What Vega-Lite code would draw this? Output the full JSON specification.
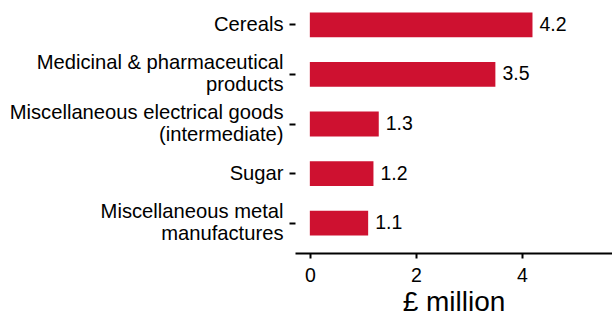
{
  "$schema": "https://vega.github.io/schema/vega-lite/v6.json",
  "width": 317,
  "height": 248,
  "autosize": {"type": "none"},
  "padding": {"left": 295, "top": 0, "right": 0, "bottom": 70},
  "config": {"view": {"stroke": null}, "font": "Liberation Sans"},
  "data": {
    "values": [
      {"category": "Cereals", "value": 4.2},
      {"category": "Medicinal & pharmaceutical|products", "value": 3.5},
      {"category": "Miscellaneous electrical goods|(intermediate)", "value": 1.3},
      {"category": "Sugar", "value": 1.2},
      {"category": "Miscellaneous metal|manufactures", "value": 1.1}
    ]
  },
  "encoding": {
    "y": {
      "field": "category",
      "type": "nominal",
      "sort": null,
      "scale": {"paddingInner": 0.5, "paddingOuter": 0.255},
      "axis": {
        "title": null,
        "domain": false,
        "ticks": true,
        "tickColor": "black",
        "tickWidth": 2,
        "tickSize": 6,
        "labelPadding": 6,
        "labelFontSize": 20.2,
        "labelColor": "black",
        "labelLimit": 400,
        "labelLineHeight": 22,
        "labelOffset": {"condition": {"test": "indexof(datum.value, '|') >= 0", "value": -11}, "value": 0},
        "labelExpr": "split(datum.value, '|')"
      }
    },
    "x": {
      "field": "value",
      "type": "quantitative",
      "scale": {"domain": [-0.28, 5.7], "nice": false, "zero": false},
      "axis": {
        "values": [0, 2, 4],
        "grid": false,
        "domain": true,
        "domainColor": "black",
        "domainWidth": 2,
        "ticks": true,
        "tickColor": "black",
        "tickWidth": 2,
        "tickSize": 5,
        "labelFontSize": 19.5,
        "labelColor": "black",
        "labelPadding": 8,
        "offset": 5,
        "title": "£ million",
        "titleFontSize": 28,
        "titleFontWeight": "normal",
        "titleColor": "black",
        "titlePadding": 4
      }
    }
  },
  "layer": [
    {
      "mark": {"type": "bar", "color": "#CE1130"},
      "encoding": {"x2": {"datum": 0}}
    },
    {
      "mark": {"type": "text", "align": "left", "dx": 7, "fontSize": 19.5, "color": "black"},
      "encoding": {"text": {"field": "value", "type": "quantitative", "format": ".1f"}}
    }
  ]
}
